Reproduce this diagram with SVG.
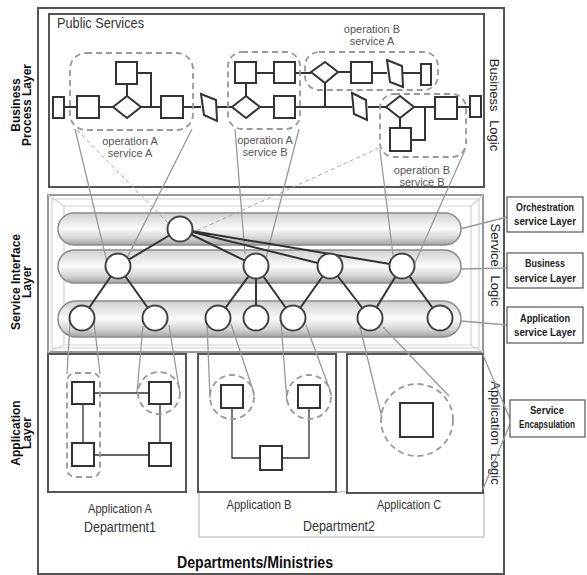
<svg xmlns="http://www.w3.org/2000/svg" width="587" height="575" viewBox="0 0 587 575">
<defs>
<linearGradient id="pg" x1="0" y1="0" x2="0" y2="1">
<stop offset="0" stop-color="#d0d0d0"/>
<stop offset="0.2" stop-color="#e2e2e2"/>
<stop offset="0.5" stop-color="#fafafa"/>
<stop offset="0.8" stop-color="#d2d2d2"/>
<stop offset="1" stop-color="#a2a2a2"/>
</linearGradient>
</defs>
<style>
text{font-family:"Liberation Sans",Arial,sans-serif}
.frame{fill:none;stroke:#555;stroke-width:2}
.box{fill:#fff;stroke:#555;stroke-width:2}
.sq{fill:#fff;stroke:#333;stroke-width:2}
.fl{fill:none;stroke:#333;stroke-width:2}
.al{fill:none;stroke:#333;stroke-width:1.3}
.dbox{fill:none;stroke:#999;stroke-width:1.8;stroke-dasharray:6 4}
.gl{fill:none;stroke:#999;stroke-width:1.3}
.gd{fill:none;stroke:#aaa;stroke-width:1;stroke-dasharray:4 3}
.tree{stroke:#333;stroke-width:2}
.node{fill:#fff;stroke:#444;stroke-width:2}
.pill{fill:url(#pg);stroke:#8a8a8a;stroke-width:1.5}
.op{font-size:11px;fill:#555;text-anchor:middle}
.vl{font-size:12px;font-weight:bold;text-anchor:middle;fill:#111}
.rl{font-size:13px;text-anchor:middle;fill:#222;word-spacing:5px}
.lb{font-size:11px;font-weight:bold;text-anchor:middle;fill:#222}
.ap{font-size:12px;text-anchor:middle;fill:#333}
.dp{font-size:14px;text-anchor:middle;fill:#333}
.lbox{fill:#fff;stroke:#555;stroke-width:1.2}
</style>

<!-- outer frame -->
<rect class="frame" x="38" y="8" width="466" height="566"/>

<!-- left layer labels -->
<g id="label-business-process">
<text class="vl" transform="translate(20,105) rotate(-90)">Business</text>
<text class="vl" transform="translate(31,105) rotate(-90)">Process Layer</text>
</g>
<g id="label-service-interface">
<text class="vl" transform="translate(20,282) rotate(-90)">Service Interface</text>
<text class="vl" transform="translate(31,282) rotate(-90)">Layer</text>
</g>
<g id="label-application">
<text class="vl" transform="translate(20,433) rotate(-90)">Application</text>
<text class="vl" transform="translate(31,433) rotate(-90)">Layer</text>
</g>

<!-- right logic labels -->
<text class="rl" transform="translate(490,105) rotate(90)">Business Logic</text>
<text class="rl" transform="translate(491,265) rotate(90)">Service Logic</text>
<text class="rl" transform="translate(491,433) rotate(90)">Application Logic</text>

<!-- Business process layer -->
<g id="business-process">
<rect class="box" x="49" y="14" width="435" height="173"/>
<text x="57" y="28" font-size="14" fill="#333" textLength="87" lengthAdjust="spacingAndGlyphs">Public Services</text>
<path class="fl" d="M64,107H77 M99,107H113 M141,107H161 M183,107H201 M217,107H232 M260,107H274 M295,107H352 M368,107H386 M414,107H435 M457,107H470"/>
<path class="fl" d="M127,84V96 M137,73H151V107 M246,83V96 M256,73H274 M295,73H311 M325,83V107 M338,72H351 M372,73H387 M403,73H421 M400,118V128 M411,140H425V107"/>
<rect class="sq" x="53" y="97" width="11" height="21"/>
<rect class="sq" x="77" y="96" width="22" height="22"/>
<polygon class="sq" points="113,107 127,96 141,107 127,118"/>
<rect class="sq" x="116" y="62" width="21" height="22"/>
<rect class="sq" x="161" y="96" width="22" height="22"/>
<polygon class="sq" points="201,94 216,100 217,121 204,115"/>
<polygon class="sq" points="232,107 246,96 260,107 246,118"/>
<rect class="sq" x="235" y="62" width="21" height="21"/>
<rect class="sq" x="274" y="62" width="21" height="21"/>
<rect class="sq" x="274" y="96" width="21" height="22"/>
<polygon class="sq" points="311,72 325,62 338,72 325,83"/>
<rect class="sq" x="351" y="62" width="21" height="21"/>
<polygon class="sq" points="387,60 402,66 403,87 390,82"/>
<rect class="sq" x="421" y="64" width="10" height="21"/>
<polygon class="sq" points="352,93 366,100 367,120 354,114"/>
<polygon class="sq" points="386,107 400,96 414,107 400,118"/>
<rect class="sq" x="390" y="128" width="21" height="23"/>
<rect class="sq" x="435" y="97" width="22" height="22"/>
<rect class="sq" x="470" y="96" width="11" height="21"/>
<rect class="dbox" x="70" y="53" width="123" height="77" rx="16"/>
<rect class="dbox" x="228" y="52" width="72" height="77" rx="14"/>
<rect class="dbox" x="305" y="52" width="133" height="38" rx="14"/>
<rect class="dbox" x="380" y="94" width="86" height="63" rx="14"/>
<text class="op" x="130" y="145">operation A</text>
<text class="op" x="130" y="157">service A</text>
<text class="op" x="265" y="144">operation A</text>
<text class="op" x="265" y="156">service B</text>
<text class="op" x="372" y="33">operation B</text>
<text class="op" x="372" y="45">service A</text>
<text class="op" x="422" y="174">operation B</text>
<text class="op" x="422" y="186">service B</text>
</g>

<!-- Service interface layer -->
<g id="service-interface">
<rect x="48" y="195" width="435" height="157" fill="#fff" stroke="#999" stroke-width="2"/>
<path fill="none" stroke="#d2d2d2" stroke-width="1.2" d="M52,199H479V348H52Z M64,206H471V345H64Z M48,195L64,206 M483,195L471,206 M48,352L64,345 M483,352L471,345"/>
<rect class="pill" x="58" y="213" width="403" height="32" rx="16"/>
<rect class="pill" x="58" y="250" width="403" height="33" rx="16.5"/>
<rect class="pill" x="58" y="301" width="403" height="36" rx="18"/>
</g>

<!-- Application layer -->
<g id="department2">
<rect x="199" y="492" width="285" height="45" fill="none" stroke="#c8c8c8" stroke-width="1.5"/>
<text class="dp" x="339" y="531" textLength="72" lengthAdjust="spacingAndGlyphs">Department2</text>
</g>
<g id="application-a">
<rect class="box" x="48" y="354" width="138" height="138"/>
<path class="al" d="M94,393H149 M83,404V443 M94,455H149 M160,404V443"/>
<rect class="sq" x="72" y="382" width="22" height="22"/>
<rect class="sq" x="72" y="443" width="22" height="23"/>
<rect class="sq" x="149" y="382" width="22" height="22"/>
<rect class="sq" x="149" y="443" width="22" height="23"/>
<rect class="dbox" x="67" y="373" width="33" height="104" rx="8"/>
<circle class="dbox" cx="159" cy="393" r="21"/>
<text class="ap" x="120" y="513" textLength="64" lengthAdjust="spacingAndGlyphs">Application A</text>
<text class="dp" x="120" y="532" textLength="72" lengthAdjust="spacingAndGlyphs">Department1</text>
</g>
<g id="application-b">
<rect class="box" x="198" y="354" width="138" height="138"/>
<path class="al" d="M232,408V458H260 M309,408V458H282"/>
<rect class="sq" x="221" y="385" width="22" height="23"/>
<rect class="sq" x="298" y="385" width="22" height="23"/>
<rect class="sq" x="260" y="446" width="22" height="24"/>
<circle class="dbox" cx="232" cy="397" r="22"/>
<circle class="dbox" cx="309" cy="397" r="22"/>
<text class="ap" x="259" y="509" textLength="65" lengthAdjust="spacingAndGlyphs">Application B</text>
</g>
<g id="application-c">
<rect class="box" x="347" y="354" width="136" height="139"/>
<rect class="sq" x="400" y="403" width="33" height="34"/>
<circle class="dbox" cx="417" cy="420" r="36"/>
<text class="ap" x="409" y="509" textLength="64" lengthAdjust="spacingAndGlyphs">Application C</text>
</g>
<text x="255" y="568" font-size="16" font-weight="bold" text-anchor="middle" fill="#111" textLength="156" lengthAdjust="spacingAndGlyphs">Departments/Ministries</text>

<!-- connectors -->
<g id="connectors">
<path class="gl" d="M75,129L107,262 M192,129L127,258 M235,129L245,254 M299,129L266,258 M380,150L393,255 M465,150L414,265"/>
<path class="gd" d="M77,130L169,224 M379,148L192,233"/>
<path class="gl" d="M70,323L67,374 M94,322L100,374 M143,326L137,392 M169,325L180,394 M207,323L210,398 M231,324L254,393 M281,322L287,402 M306,325L331,393 M360,327L382,418 M383,327L449,396"/>
<path class="tree" d="M180,229L118,266 M180,229L256,266 M180,229L330,266 M180,229L402,266 M118,266L82,318 M118,266L155,318 M256,266L218,318 M256,266L256,318 M256,266L293,318 M330,266L293,318 M330,266L370,318 M402,266L370,318 M402,266L440,318"/>
<path class="gl" stroke="#888" d="M460,229L507,217 M460,269L507,268 M461,321L507,325 M483,355L510,419 M483,489L510,424"/>
</g>

<!-- service nodes -->
<g id="orchestration-nodes">
<circle class="node" cx="180" cy="229" r="12.5"/>
</g>
<g id="business-service-nodes">
<circle class="node" cx="118" cy="266" r="12.5"/>
<circle class="node" cx="256" cy="266" r="12.5"/>
<circle class="node" cx="330" cy="266" r="12.5"/>
<circle class="node" cx="402" cy="266" r="12.5"/>
</g>
<g id="application-service-nodes">
<circle class="node" cx="82" cy="318" r="12.5"/>
<circle class="node" cx="155" cy="318" r="12.5"/>
<circle class="node" cx="218" cy="318" r="12.5"/>
<circle class="node" cx="256" cy="318" r="12.5"/>
<circle class="node" cx="293" cy="318" r="12.5"/>
<circle class="node" cx="370" cy="318" r="12.5"/>
<circle class="node" cx="440" cy="318" r="12.5"/>
</g>

<!-- right label boxes -->
<g id="orchestration-label">
<rect class="lbox" x="507" y="197" width="76" height="35"/>
<text class="lb" x="545" y="211" textLength="58" lengthAdjust="spacingAndGlyphs">Orchestration</text>
<text class="lb" x="545" y="225" textLength="62" lengthAdjust="spacingAndGlyphs">service Layer</text>
</g>
<g id="business-label">
<rect class="lbox" x="507" y="253" width="76" height="35"/>
<text class="lb" x="545" y="267" textLength="40" lengthAdjust="spacingAndGlyphs">Business</text>
<text class="lb" x="545" y="282" textLength="62" lengthAdjust="spacingAndGlyphs">service Layer</text>
</g>
<g id="application-label">
<rect class="lbox" x="507" y="307" width="76" height="36"/>
<text class="lb" x="545" y="322" textLength="50" lengthAdjust="spacingAndGlyphs">Application</text>
<text class="lb" x="545" y="336" textLength="62" lengthAdjust="spacingAndGlyphs">service Layer</text>
</g>
<g id="encapsulation-label">
<rect class="lbox" x="510" y="400" width="75" height="37"/>
<text class="lb" x="547" y="414" textLength="34" lengthAdjust="spacingAndGlyphs">Service</text>
<text class="lb" x="547" y="428" font-size="9.5" textLength="56" lengthAdjust="spacingAndGlyphs">Encapsulation</text>
</g>
</svg>
